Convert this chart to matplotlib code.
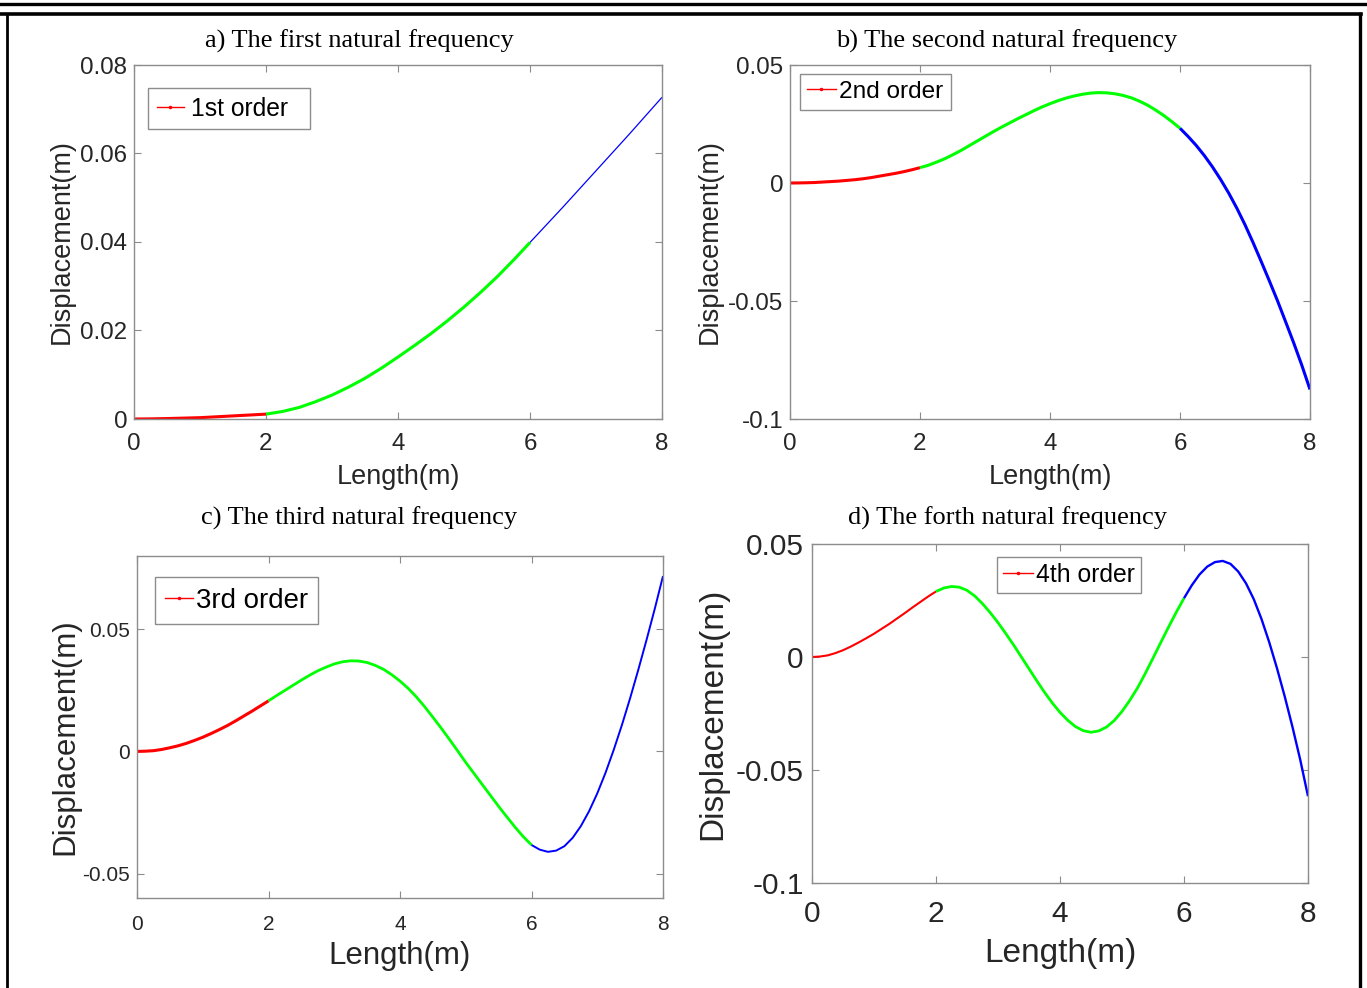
import matplotlib
matplotlib.use("Agg")
import matplotlib.pyplot as plt
from matplotlib.lines import Line2D
import numpy as np

# ---------------- data ----------------
x_a = [0, 0.25, 0.5, 0.75, 1, 1.25, 1.5, 1.75, 2, 2.25, 2.5, 2.75, 3, 3.25, 3.5, 3.75,
       4, 4.25, 4.5, 4.75, 5, 5.25, 5.5, 5.75, 6, 6.25, 6.5, 6.75, 7, 7.25, 7.5, 7.75, 8]

mode1 = [0, 0.00003, 0.0001, 0.0002, 0.0003, 0.0005, 0.0007, 0.0009, 0.0011, 0.0017, 0.0026,
         0.0039, 0.0054, 0.0072, 0.0092, 0.0115, 0.0140, 0.0166, 0.0193, 0.0222, 0.0253,
         0.0286, 0.0321, 0.0359, 0.0399, 0.0439, 0.0479, 0.0520, 0.0561, 0.0602, 0.0643,
         0.0685, 0.0727]

x_fine = [0, 0.125, 0.25, 0.375, 0.5, 0.625, 0.75, 0.875, 1, 1.125, 1.25, 1.375, 1.5, 1.625,
          1.75, 1.875, 2, 2.125, 2.25, 2.375, 2.5, 2.625, 2.75, 2.875, 3, 3.125, 3.25, 3.375,
          3.5, 3.625, 3.75, 3.875, 4, 4.125, 4.25, 4.375, 4.5, 4.625, 4.75, 4.875, 5, 5.125,
          5.25, 5.375, 5.5, 5.625, 5.75, 5.875, 6, 6.125, 6.25, 6.375, 6.5, 6.625, 6.75,
          6.875, 7, 7.125, 7.25, 7.375, 7.5, 7.625, 7.75, 7.875, 8]

mode2 = [0, 0.00003, 0.0001, 0.0002, 0.0004, 0.0006, 0.0008, 0.0011, 0.0014, 0.0018, 0.0023,
         0.0029, 0.0035, 0.0041, 0.0048, 0.0056, 0.0065, 0.0075, 0.0088, 0.0102, 0.0119,
         0.0137, 0.0157, 0.0177, 0.0197, 0.0217, 0.0236, 0.0254, 0.0272, 0.0289, 0.0306,
         0.0322, 0.0336, 0.0349, 0.0360, 0.0369, 0.0376, 0.0381, 0.0383, 0.0382, 0.0378,
         0.0371, 0.0361, 0.0347, 0.0330, 0.0309, 0.0286, 0.0260, 0.0232, 0.0197, 0.0159,
         0.0116, 0.0068, 0.0015, -0.0043, -0.0107, -0.0177, -0.0253, -0.0333, -0.0415,
         -0.0499, -0.0588, -0.0678, -0.0773, -0.0875]

mode3 = [0, 0.0001, 0.0003, 0.0008, 0.0015, 0.0023, 0.0033, 0.0045, 0.0058, 0.0073, 0.0089,
         0.0106, 0.0125, 0.0145, 0.0165, 0.0186, 0.0207, 0.0229, 0.0250, 0.0271, 0.0292,
         0.0312, 0.0330, 0.0345, 0.0358, 0.0367, 0.0371, 0.0370, 0.0364, 0.0352, 0.0336,
         0.0314, 0.0288, 0.0258, 0.0223, 0.0183, 0.0140, 0.0096, 0.0050, 0.0003, -0.0045,
         -0.0090, -0.0135, -0.0180, -0.0225, -0.0268, -0.0310, -0.0349, -0.0383, -0.0402,
         -0.0411, -0.0406, -0.0388, -0.0354, -0.0306, -0.0245, -0.0172, -0.0088, 0.0006,
         0.0108, 0.0218, 0.0335, 0.0457, 0.0584, 0.0718]

mode4 = [0, 0.0002, 0.0007, 0.0017, 0.0030, 0.0046, 0.0064, 0.0083, 0.0103, 0.0125, 0.0147,
         0.0171, 0.0195, 0.0220, 0.0244, 0.0268, 0.0290, 0.0305, 0.0312, 0.0309, 0.0295,
         0.0270, 0.0236, 0.0196, 0.0152, 0.0104, 0.0054, 0.0001, -0.0052, -0.0105, -0.0156,
         -0.0203, -0.0245, -0.0280, -0.0308, -0.0326, -0.0333, -0.0327, -0.0310, -0.0281,
         -0.0241, -0.0192, -0.0137, -0.0073, -0.0005, 0.0064, 0.0132, 0.0198, 0.0260,
         0.0317, 0.0365, 0.0400, 0.0420, 0.0425, 0.0412, 0.0378, 0.0326, 0.0256, 0.0168,
         0.0065, -0.0050, -0.0175, -0.0310, -0.0455, -0.0616]

segments = [(0, 2), (2, 6), (6, 8)]
seg_colors = ["#ff0000", "#00ff00", "#0000ff"]

titles = ["a) The first natural frequency", "b) The second natural frequency",
          "c) The third natural frequency", "d) The forth natural frequency"]
legend_labels = ["1st order  ", "2nd order", "3rd order", "4th order"]

xticks = [0, 2, 4, 6, 8]
yticks_a = [0, 0.02, 0.04, 0.06, 0.08]
yticklabels_a = ["0", "0.02", "0.04", "0.06", "0.08"]
yticks_bd = [-0.1, -0.05, 0, 0.05]
yticklabels_bd = ["-0.1", "-0.05", "0", "0.05"]
yticks_c = [-0.05, 0, 0.05]
yticklabels_c = ["-0.05", "0", "0.05"]

# ---------------- figure ----------------
W, H = 1367, 988
fig = plt.figure(figsize=(W / 100, H / 100), dpi=100)
fig.patch.set_facecolor("white")

SANS = ["Liberation Sans", "DejaVu Sans"]
SERIF = ["Liberation Serif", "DejaVu Serif"]

def px_rect(left, top, right, bottom):
    return [left / W, 1 - bottom / H, (right - left) / W, (bottom - top) / H]

panels = [
    dict(rect=px_rect(134, 65, 662, 419), x=x_a, y=mode1, ylim=(0, 0.08), yt=yticks_a, ytl=yticklabels_a,
         tick_fs=17.4, lab_fs=19.5, leg_fs=17.7, lws=(2.2, 2.2, 0.9),
         xlab=(-0.163), ylab=(-0.136, 0.5), leg_anchor=(0.0265, 0.935), xpad=10, ypad=5,
         leg_bp=0.35, leg_hl=1.1, leg_htp=0.3),
    dict(rect=px_rect(790, 65, 1310, 419), x=x_fine, y=mode2, ylim=(-0.1, 0.05), yt=yticks_bd, ytl=yticklabels_bd,
         tick_fs=17.4, lab_fs=19.5, leg_fs=17.6, lws=(2.2, 2.2, 2.2),
         xlab=(-0.163), ylab=(-0.154, 0.5), leg_anchor=(0.019, 0.975), xpad=10, ypad=5,
         leg_bp=0.28, leg_hl=1.2, leg_htp=0.14),
    dict(rect=px_rect(137, 556, 663, 898), x=x_fine, y=mode3, ylim=(-0.06, 0.08), yt=yticks_c, ytl=yticklabels_c,
         tick_fs=15, lab_fs=22.5, leg_fs=19.9, lws=(2.2, 2.0, 1.4),
         xlab=(-0.170), ylab=(-0.137, 0.472), leg_anchor=(0.034, 0.938), xpad=12, ypad=5,
         leg_bp=0.38, leg_hl=1.0, leg_htp=0.1),
    dict(rect=px_rect(812, 544, 1308, 883), x=x_fine, y=mode4, ylim=(-0.1, 0.05), yt=yticks_bd, ytl=yticklabels_bd,
         tick_fs=21.5, lab_fs=24, leg_fs=17.8, lws=(1.5, 2.0, 1.7),
         xlab=(-0.2065), ylab=(-0.20, 0.5), leg_anchor=(0.373, 0.962), xpad=12, ypad=6,
         leg_bp=0.24, leg_hl=1.2, leg_htp=0.15),
]

for i, p in enumerate(panels):
    ax = fig.add_axes(p["rect"])
    xa = np.array(p["x"])
    ya = np.array(p["y"])
    for (lo, hi), c, lw in zip(segments, seg_colors, p["lws"]):
        m = (xa >= lo) & (xa <= hi)
        ax.plot(xa[m], ya[m], color=c, lw=lw, solid_capstyle="butt", solid_joinstyle="round")
    ax.set_xlim(0, 8)
    ax.set_ylim(*p["ylim"])
    ax.set_xticks(xticks)
    ax.set_xticklabels([str(t) for t in xticks])
    ax.set_yticks(p["yt"])
    ax.set_yticklabels(p["ytl"])
    for s in ax.spines.values():
        s.set_color("#8c8c8c")
        s.set_linewidth(1.0)
    ax.tick_params(direction="in", length=5, width=0.8, color="#8c8c8c",
                   top=True, right=True, labelcolor="#262626", labelsize=p["tick_fs"])
    ax.tick_params(axis="x", pad=p["xpad"])
    ax.tick_params(axis="y", pad=p["ypad"])
    for lab in ax.get_xticklabels() + ax.get_yticklabels():
        lab.set_fontfamily(SANS)

    ax.set_xlabel("Length(m)", fontsize=p["lab_fs"], family=SANS, color="#262626", va="center")
    ax.xaxis.set_label_coords(0.5, p["xlab"])
    ax.set_ylabel("Displacement(m)", fontsize=p["lab_fs"], family=SANS, color="#262626", va="center")
    ax.yaxis.set_label_coords(*p["ylab"])

    handle = Line2D([], [], color="#ff0000", lw=1.0, marker=".", markersize=3)
    leg = ax.legend([handle], [legend_labels[i]], loc="upper left", bbox_to_anchor=p["leg_anchor"],
                    borderaxespad=0, fancybox=False, framealpha=1, edgecolor="#8c8c8c",
                    prop={"family": SANS, "size": p["leg_fs"]}, borderpad=p["leg_bp"],
                    handlelength=p["leg_hl"], handletextpad=p["leg_htp"], numpoints=1)
    leg.get_frame().set_linewidth(1.0)

# titles (figure-level text, serif)
title_pos = [(359, 41), (1007, 41), (359, 518), (1007, 518)]
for t, (tx, ty) in zip(titles, title_pos):
    fig.text(tx / W, 1 - ty / H, t, ha="center", va="center", family=SERIF, fontsize=19, color="black")

# page frame lines
fig.add_artist(Line2D([0, 1], [1 - 4.5 / H, 1 - 4.5 / H], transform=fig.transFigure, color="black", lw=2.4))
fig.add_artist(Line2D([0, 1361 / W], [1 - 14.5 / H, 1 - 14.5 / H], transform=fig.transFigure, color="black", lw=2.6))
fig.add_artist(Line2D([7 / W, 7 / W], [0, 1 - 14.5 / H], transform=fig.transFigure, color="black", lw=2.0))
fig.add_artist(Line2D([1359.5 / W, 1359.5 / W], [0, 1 - 14.5 / H], transform=fig.transFigure, color="black", lw=2.4))

fig.savefig("out.png", dpi=100, facecolor="white")
